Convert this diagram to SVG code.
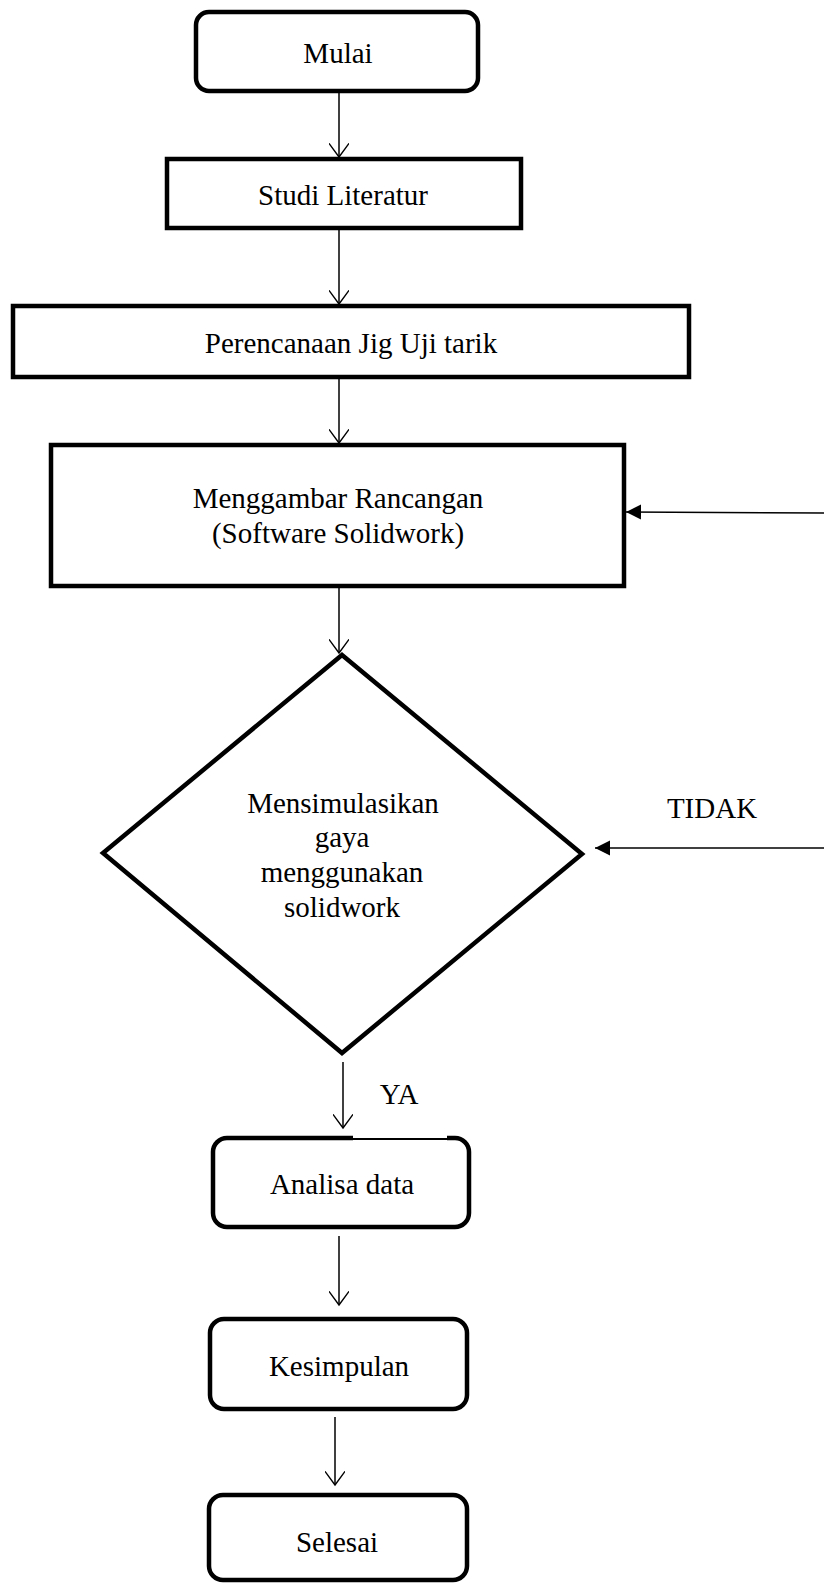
<svg xmlns="http://www.w3.org/2000/svg" width="824" height="1583" viewBox="0 0 824 1583">
<style>
.box{fill:#fff;stroke:#000;stroke-width:4.5}
.t{font-family:"Liberation Serif","Times New Roman",serif;font-size:29px;fill:#000;text-anchor:middle}
.c{fill:none;stroke:#000;stroke-width:1.5}
</style>
<defs>
<marker id="open" markerUnits="userSpaceOnUse" markerWidth="26" markerHeight="20" refX="22" refY="11" orient="auto" viewBox="0 0 24 22">
<path d="M7,0 L22,11 L7,22" fill="none" stroke="#000" stroke-width="1.5"/>
</marker>
<marker id="solid" markerUnits="userSpaceOnUse" markerWidth="16" markerHeight="16" refX="15" refY="7.5" orient="auto" viewBox="0 0 16 15">
<path d="M0,0 L15,7.5 L0,15 Z" fill="#000"/>
</marker>
</defs>
<rect width="824" height="1583" fill="#fff"/>
<g id="connectors">
<line class="c" x1="339" y1="93" x2="339" y2="157" marker-end="url(#open)"/>
<line class="c" x1="339" y1="230" x2="339" y2="304" marker-end="url(#open)"/>
<line class="c" x1="339" y1="379" x2="339" y2="443" marker-end="url(#open)"/>
<line class="c" x1="339" y1="588" x2="339" y2="653" marker-end="url(#open)"/>
<line class="c" x1="343" y1="1062" x2="343" y2="1128" marker-end="url(#open)"/>
<line class="c" x1="339" y1="1236" x2="339" y2="1305" marker-end="url(#open)"/>
<line class="c" x1="335" y1="1417" x2="335" y2="1485" marker-end="url(#open)"/>
<line class="c" x1="824" y1="513" x2="626" y2="512" marker-end="url(#solid)"/>
<line class="c" x1="824" y1="848" x2="595" y2="848" marker-end="url(#solid)"/>
<text class="t" x="712" y="818">TIDAK</text>
<text class="t" x="399" y="1104">YA</text>
</g>
<g id="mulai">
<rect class="box" x="196" y="12" width="282" height="79" rx="13"/>
<text class="t" x="338" y="63">Mulai</text>
</g>
<g id="studi">
<rect class="box" x="167" y="159" width="354" height="69"/>
<text class="t" x="343" y="205">Studi Literatur</text>
</g>
<g id="perencanaan">
<rect class="box" x="13" y="306" width="676" height="71"/>
<text class="t" x="351" y="353">Perencanaan Jig Uji tarik</text>
</g>
<g id="menggambar">
<rect class="box" x="51" y="445" width="573" height="141"/>
<text class="t" x="338" y="508">Menggambar Rancangan</text>
<text class="t" x="338" y="543">(Software Solidwork)</text>
</g>
<g id="simulasi">
<polygon class="box" points="342,655 582,854 342,1053 103,853"/>
<text class="t" x="343" y="813">Mensimulasikan</text>
<text class="t" x="342" y="847">gaya</text>
<text class="t" x="342" y="882">menggunakan</text>
<text class="t" x="342" y="917">solidwork</text>
</g>
<g id="analisa">
<rect class="box" x="213" y="1138" width="256" height="89" rx="14"/>
<rect x="353" y="1135" width="94" height="8" fill="#fff"/>
<line x1="353" y1="1139" x2="447" y2="1139" stroke="#000" stroke-width="2"/>
<text class="t" x="342" y="1194">Analisa data</text>
</g>
<g id="kesimpulan">
<rect class="box" x="210" y="1319" width="257" height="90" rx="14"/>
<text class="t" x="339" y="1376">Kesimpulan</text>
</g>
<g id="selesai">
<rect class="box" x="209" y="1495" width="258" height="85" rx="14"/>
<text class="t" x="337" y="1552">Selesai</text>
</g>
</svg>
